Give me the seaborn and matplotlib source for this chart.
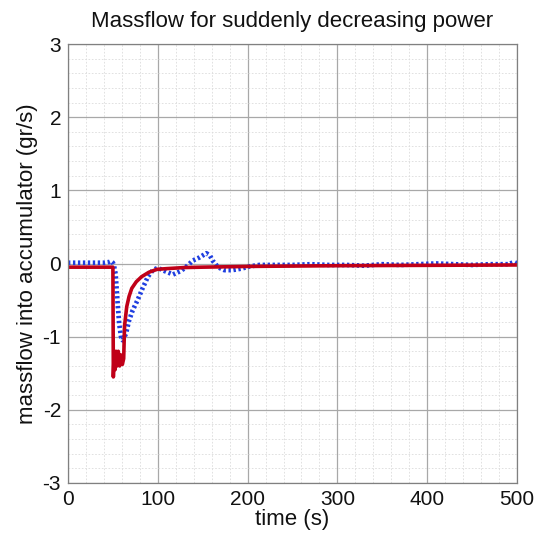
import numpy as np
import pandas as pd
import matplotlib
matplotlib.use("Agg")
import matplotlib.pyplot as plt
import seaborn as sns
from matplotlib.ticker import MultipleLocator

# Data
t_meas = [0, 10, 20, 30, 40, 46, 48, 50, 51, 53, 55, 57, 59, 61, 64.5, 68, 72, 77.5, 83, 89, 94.5,
          100, 107, 117, 126, 133, 139, 146, 154, 158, 161, 167, 174, 183, 193, 202, 213,
          230, 250, 270, 290, 310, 330, 350, 370, 390, 410, 430, 450, 470, 490, 497, 500]
v_meas = [0.01, 0.01, 0.01, 0.01, 0.01, 0.02, 0.03, 0.01, -0.02, -0.14, -0.5, -0.82, -1.0, -1.05, -0.96, -0.78, -0.64, -0.5, -0.34, -0.18, -0.09,
          -0.06, -0.10, -0.15, -0.10, -0.03, 0.04, 0.08, 0.14, 0.11, 0.04, -0.05, -0.09, -0.09, -0.07, -0.04, -0.02,
          -0.02, -0.02, -0.01, -0.02, -0.02, -0.03, -0.01, -0.02, -0.01, 0.0, -0.01, -0.02, -0.01, -0.01, 0.02, 0.0]

t_model = [0, 50, 50.5, 51.5, 52.5, 53.5, 54.5, 56, 57.5, 59, 60.5, 62, 63, 65.4, 68, 71, 76, 82, 90, 99,
           110, 130, 150, 200, 300, 400, 500]
v_model = [-0.05, -0.05, -1.55, -1.2, -1.45, -1.2, -1.4, -1.2, -1.4, -1.25, -1.38, -1.3, -0.85, -0.59, -0.45, -0.34, -0.25, -0.18, -0.12, -0.08,
           -0.07, -0.055, -0.05, -0.04, -0.03, -0.025, -0.02]

df_meas = pd.DataFrame({"t": t_meas, "v": v_meas})
df_model = pd.DataFrame({"t": t_model, "v": v_model})

sns.set_theme(style="white")
plt.rcParams['font.family'] = ['Liberation Sans', 'DejaVu Sans']
plt.rcParams['axes.unicode_minus'] = False

fig = plt.figure(figsize=(5.42, 5.38), dpi=100)
ax = fig.add_axes([68/542, 1-483/538, (517-68)/542, (483-44)/538])

sns.lineplot(data=df_meas, x="t", y="v", ax=ax, color="#1f3fe0", lw=3.4,
             linestyle=(0, (0.5, 0.55)), estimator=None, sort=False)
sns.lineplot(data=df_model, x="t", y="v", ax=ax, color="#c00018", lw=2.6,
             estimator=None, sort=False)

ax.set_xlim(0, 500)
ax.set_ylim(-3, 3)
ax.xaxis.set_major_locator(MultipleLocator(100))
ax.xaxis.set_minor_locator(MultipleLocator(20))
ax.yaxis.set_major_locator(MultipleLocator(1))
ax.yaxis.set_minor_locator(MultipleLocator(0.2))
ax.grid(which="major", color="#a8a8a8", lw=0.9, ls="-")
ax.grid(which="minor", color="#dcdcdc", lw=0.6, ls=(0, (2, 2)))
ax.set_axisbelow(True)
for s in ax.spines.values():
    s.set_color("#808080")
    s.set_linewidth(0.9)
ax.tick_params(which="major", direction="in", length=4, color="#606060",
               labelsize=15, labelcolor="#111111", pad=5)
ax.tick_params(which="minor", length=0)
ax.set_xlabel("time (s)", fontsize=16, labelpad=0, color="#111111")
ax.set_ylabel("massflow into accumulator (gr/s)", fontsize=16, labelpad=3, color="#111111")
ax.set_title("Massflow for suddenly decreasing power", fontsize=16, pad=12, color="#111111")

fig.savefig("out.png", dpi=100)
